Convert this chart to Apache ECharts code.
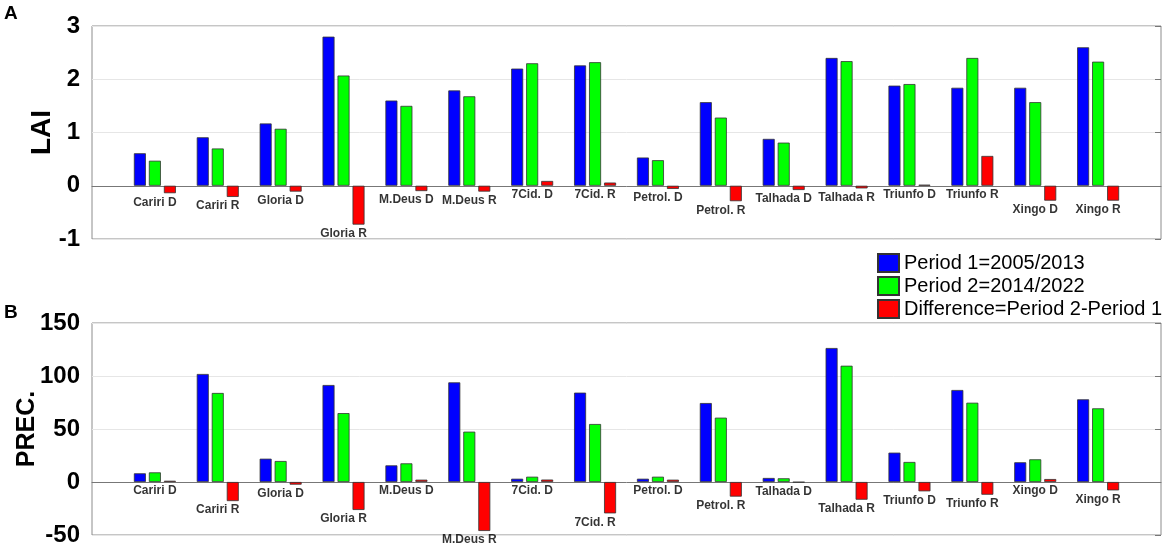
<!DOCTYPE html>
<html>
<head>
<meta charset="utf-8">
<script src="https://cdn.jsdelivr.net/npm/echarts@6/dist/echarts.min.js"></script>
<style>
    html, body { margin: 0; padding: 0; background: #fff; }
    #chart { width: 1170px; height: 552px; }
</style>
</head>
<body>
<div id="chart"></div>
<script>
let sites = ["Cariri D", "Cariri R", "Gloria D", "Gloria R", "M.Deus D", "M.Deus R", "7Cid. D", "7Cid. R",
    "Petrol. D", "Petrol. R", "Talhada D", "Talhada R", "Triunfo D", "Triunfo R", "Xingo D", "Xingo R"];

let laiP1 = [0.61, 0.91, 1.17, 2.80, 1.60, 1.79, 2.20, 2.26, 0.53, 1.57, 0.88, 2.40, 1.88, 1.84, 1.84, 2.60];
let laiP2 = [0.47, 0.70, 1.07, 2.07, 1.50, 1.68, 2.30, 2.32, 0.48, 1.28, 0.81, 2.34, 1.91, 2.40, 1.57, 2.33];
let laiDiff = [-0.14, -0.21, -0.11, -0.73, -0.10, -0.11, 0.09, 0.06, -0.06, -0.29, -0.08, -0.05, 0.02, 0.56, -0.28, -0.28];

let precP1 = [8.2, 101.9, 22, 91.5, 15.7, 94, 3.1, 84.3, 3.1, 74.5, 3.8, 126.4, 27.7, 86.8, 18.6, 78];
let precP2 = [9.1, 84, 19.8, 65, 17.6, 47.5, 5, 54.7, 5, 60.7, 3.5, 109.7, 18.9, 74.8, 21.4, 69.5];
let precDiff = [1.2, -18, -2.5, -26.4, 2.2, -46.2, 2.3, -29.6, 2.2, -13.8, -0.3, -16.7, -8.8, -12, 2.8, -7.9];

let seriesNames = ["Period 1=2005/2013", "Period 2=2014/2022", "Difference=Period 2-Period 1"];
let colors = ["#0000ff", "#00ff00", "#ff0000"];

let chart = echarts.init(document.getElementById("chart"));

// x range runs from 0 to 17, sites sit on 1..16
let cats = [""].concat(sites, [""]);
function pad(arr) {
    return [null].concat(arr, [null]);
}

function panelSeries(idx, p1, p2, diff) {
    let list = [p1, p2, diff].map((vals, k) => ({
        name: seriesNames[k],
        type: "bar",
        xAxisIndex: idx,
        yAxisIndex: idx * 2,
        barWidth: 12,
        barGap: "25%",
        itemStyle: { color: colors[k], borderColor: "#333", borderWidth: 0.8 },
        data: pad(vals)
    }));
    list.push({
        type: "scatter",
        xAxisIndex: idx,
        yAxisIndex: idx * 2,
        symbolSize: 0,
        silent: true,
        label: {
            show: true,
            position: "bottom",
            distance: 3,
            color: "#000",
            fontWeight: "bold",
            fontSize: 12,
            fontFamily: "Liberation Sans",
            formatter: p => cats[p.dataIndex]
        },
        data: pad(diff.map(d => Math.min(0, d)))
    });
    return list;
}

function leftAxis(grid, min, max, interval, name, gap, nameSize) {
    return {
        type: "value", gridIndex: grid, min: min, max: max, interval: interval,
        name: name, nameLocation: "middle", nameGap: gap, nameRotate: 90,
        nameMoveOverlap: false,
        nameTextStyle: { fontSize: nameSize, fontWeight: "bold", color: "#000", fontFamily: "Liberation Sans" },
        axisLine: { show: false },
        axisTick: { show: false },
        axisLabel: { fontSize: 24, fontWeight: "bold", color: "#000", margin: 12, fontFamily: "Liberation Sans" },
        splitLine: { lineStyle: { color: "#e6e6e6" } }
    };
}

function rightTicks(grid, min, max, interval) {
    return {
        type: "value", gridIndex: grid, position: "right", min: min, max: max, interval: interval,
        axisLine: { show: false },
        axisTick: { show: true, inside: true, length: 6, lineStyle: { color: "#777" } },
        axisLabel: { show: false },
        splitLine: { show: false }
    };
}

function xAxisFor(grid) {
    return {
        type: "category", gridIndex: grid, data: cats, boundaryGap: false,
        axisLine: { onZero: true, lineStyle: { color: "#777", width: 1 } },
        axisTick: { show: false },
        axisLabel: { show: false },
        splitLine: { show: false }
    };
}

let option = {
    animation: false,
    textStyle: { fontFamily: "Liberation Sans" },
    graphic: [
        { type: "text", left: 4, top: 4, style: { text: "A", font: "bold 19px Liberation Sans", fill: "#000" } },
        { type: "text", left: 4, top: 303, style: { text: "B", font: "bold 19px Liberation Sans", fill: "#000" } }
    ],
    legend: {
        data: seriesNames,
        orient: "vertical",
        left: 872,
        top: 248,
        icon: "rect",
        itemWidth: 21,
        itemHeight: 18,
        itemGap: 3,
        textStyle: { fontSize: 20, lineHeight: 18, color: "#000", fontFamily: "Liberation Sans" }
    },
    grid: [
        { left: 92, right: 9, top: 26, height: 213, show: true, borderColor: "#8c8c8c", borderWidth: 1 },
        { left: 92, right: 9, top: 323, height: 212, show: true, borderColor: "#8c8c8c", borderWidth: 1 }
    ],
    xAxis: [xAxisFor(0), xAxisFor(1)],
    yAxis: [
        leftAxis(0, -1, 3, 1, "LAI", 36, 28),
        rightTicks(0, -1, 3, 1),
        leftAxis(1, -50, 150, 50, "PREC.", 52, 25),
        rightTicks(1, -50, 150, 50)
    ],
    series: panelSeries(0, laiP1, laiP2, laiDiff).concat(panelSeries(1, precP1, precP2, precDiff))
};

chart.setOption(option);
</script>
</body>
</html>
